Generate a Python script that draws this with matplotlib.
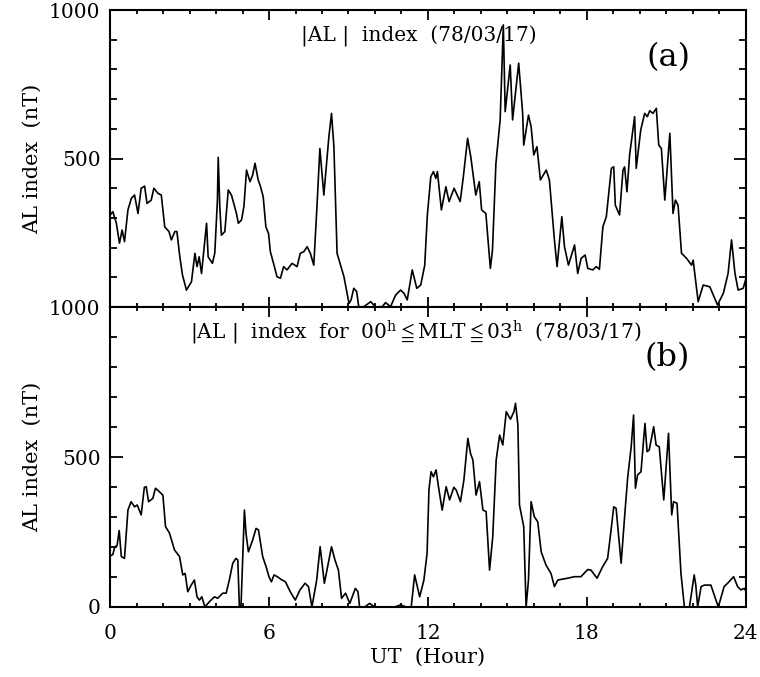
import matplotlib
matplotlib.use("Agg")
import matplotlib.pyplot as plt
from matplotlib.ticker import MultipleLocator

plt.rcParams['font.family'] = ['DejaVu Serif', 'DejaVu Sans']
plt.rcParams['mathtext.fontset'] = 'dejavuserif'

# |AL| index, whole day (UT hours, nT)
al_t = [0.0, 0.1, 0.23, 0.35, 0.45, 0.54, 0.67, 0.8, 0.92, 1.05, 1.17, 1.3, 1.39, 1.55, 1.65,
        1.8, 1.93, 2.06, 2.22, 2.31, 2.44, 2.52, 2.63, 2.73, 2.88, 3.07, 3.2, 3.28, 3.36, 3.45,
        3.64, 3.7, 3.86, 3.95, 4.05, 4.08, 4.14, 4.2, 4.33, 4.46, 4.58, 4.77, 4.84, 4.96, 5.05,
        5.15, 5.28, 5.38, 5.47, 5.59, 5.68, 5.78, 5.88, 5.98, 6.05, 6.17, 6.3, 6.43, 6.55, 6.68,
        6.87, 7.06, 7.18, 7.31, 7.44, 7.56, 7.69, 7.81, 7.92, 8.07, 8.26, 8.36, 8.45, 8.57, 8.7,
        8.83, 9.02, 9.1, 9.2, 9.31, 9.39, 9.58, 9.84, 10.03, 10.15, 10.28, 10.4, 10.59, 10.78,
        10.97, 11.1, 11.22, 11.41, 11.58, 11.73, 11.88, 11.98, 12.11, 12.21, 12.3, 12.36, 12.51,
        12.68, 12.8, 12.99, 13.22, 13.34, 13.5, 13.62, 13.81, 13.94, 14.03, 14.19, 14.36, 14.44,
        14.57, 14.73, 14.85, 14.92, 15.11, 15.2, 15.43, 15.58, 15.62, 15.8, 15.9, 16.0, 16.12,
        16.25, 16.47, 16.59, 16.78, 16.88, 17.06, 17.16, 17.31, 17.54, 17.66, 17.79, 17.94,
        18.04, 18.23, 18.36, 18.48, 18.61, 18.74, 18.93, 19.02, 19.08, 19.24, 19.37, 19.43,
        19.52, 19.62, 19.81, 19.87, 20.04, 20.19, 20.29, 20.38, 20.5, 20.63, 20.72, 20.82,
        20.95, 21.14, 21.26, 21.35, 21.45, 21.58, 21.77, 21.96, 22.02, 22.21, 22.4, 22.65,
        22.94, 23.16, 23.34, 23.47, 23.6, 23.72, 23.91, 24.0]
al_v = [310, 321, 283, 215, 259, 220, 327, 366, 377, 315, 400, 407, 349, 360, 400,
        383, 377, 270, 254, 226, 254, 254, 169, 108, 57, 85, 181, 136, 169, 113,
        282, 169, 147, 181, 360, 504, 338, 242, 254, 394, 377, 315, 282, 293, 338,
        461, 422, 444, 484, 428, 405, 371, 270, 248, 186, 147, 102, 97, 136, 125,
        147, 136, 181, 186, 203, 181, 141, 338, 534, 377, 573, 652, 540, 181, 141,
        102, 12, 24, 63, 52, 0, 1, 18, 0, 1, 1, 15, 1, 40,
        57, 46, 24, 125, 63, 74, 140, 310, 439, 456, 433, 456, 327,
        405, 355, 400, 355, 439, 568, 506, 377, 422, 327, 315, 130, 192,
        484, 630, 950, 658, 815, 630, 821, 652, 545, 646, 607, 512, 540,
        428, 461, 428, 226, 136, 304, 203, 141, 209, 113, 164, 175,
        130, 125, 136, 127, 270, 304, 467, 472, 343, 310, 461, 472,
        388, 512, 641, 467, 596, 652, 641, 661, 652, 669, 545, 534,
        360, 585, 315, 360, 343, 181, 164, 141, 158, 18, 74, 68,
        7, 46, 113, 226, 113, 57, 63, 91]

# |AL| index for 00h <= MLT <= 03h
mlt_t = [0.0, 0.1, 0.17, 0.26, 0.34, 0.42, 0.54, 0.67, 0.79, 0.92, 1.02, 1.17, 1.29, 1.36, 1.45,
         1.61, 1.71, 1.86, 1.99, 2.09, 2.24, 2.43, 2.62, 2.74, 2.83, 2.93, 3.06, 3.18, 3.28,
         3.37, 3.46, 3.58, 3.75, 3.94, 4.06, 4.25, 4.38, 4.5, 4.63, 4.75, 4.82, 4.88, 4.94,
         5.07, 5.13, 5.22, 5.38, 5.51, 5.6, 5.76, 5.89, 6.0, 6.09, 6.19, 6.31, 6.49, 6.62,
         6.8, 6.99, 7.17, 7.36, 7.49, 7.62, 7.8, 7.93, 8.09, 8.24, 8.36, 8.49, 8.62, 8.74,
         8.89, 9.05, 9.26, 9.36, 9.42, 9.61, 9.8, 9.99, 10.37, 10.74, 10.97, 11.18, 11.37,
         11.5, 11.69, 11.85, 11.97, 12.04, 12.12, 12.21, 12.31, 12.4, 12.54, 12.69, 12.82,
         12.98, 13.07, 13.23, 13.36, 13.51, 13.61, 13.7, 13.82, 13.95, 14.08, 14.2, 14.33,
         14.45, 14.58, 14.71, 14.83, 14.96, 15.12, 15.25, 15.31, 15.4, 15.46, 15.62, 15.71,
         15.8, 15.9, 16.02, 16.15, 16.28, 16.46, 16.65, 16.78, 16.91, 17.28, 17.53, 17.78,
         18.04, 18.16, 18.39, 18.6, 18.79, 18.92, 19.02, 19.11, 19.3, 19.45, 19.55, 19.68,
         19.77, 19.84, 19.92, 20.05, 20.2, 20.28, 20.36, 20.53, 20.62, 20.74, 20.91, 21.09,
         21.21, 21.28, 21.41, 21.56, 21.69, 21.88, 22.06, 22.12, 22.19, 22.32, 22.44, 22.69,
         22.97, 23.19, 23.32, 23.55, 23.7, 23.82, 23.95, 24.0]
mlt_v = [170, 175, 200, 205, 255, 168, 162, 323, 351, 334, 340, 307, 399, 401, 351,
         362, 396, 384, 373, 268, 246, 190, 168, 107, 112, 51, 73, 90, 34,
         23, 34, 0, 18, 34, 29, 46, 46, 90, 146, 162, 157, 0, 0,
         323, 246, 184, 223, 262, 257, 168, 134, 100, 84, 107, 101, 90, 84,
         51, 23, 57, 79, 68, 0, 90, 201, 79, 146, 201, 157, 123, 29,
         46, 12, 62, 51, 0, 0, 12, 0, 0, 0, 7, 0, 0,
         107, 34, 90, 179, 390, 451, 434, 457, 401, 323, 401, 357,
         399, 390, 351, 423, 562, 512, 490, 373, 418, 323, 318, 123,
         234, 490, 573, 540, 651, 626, 651, 679, 607, 340, 268, 0,
         90, 351, 301, 284, 184, 140, 112, 68, 90, 96, 101, 101,
         125, 123, 96, 134, 162, 257, 334, 329, 146, 323, 434, 534,
         640, 396, 440, 451, 612, 518, 523, 601, 540, 534, 357, 579,
         307, 351, 346, 112, 0, 0, 107, 73, 0, 68, 73, 73,
         0, 68, 79, 101, 68, 57, 62, 55]

fig = plt.figure(figsize=(7.6, 6.77), dpi=100)
ax1 = fig.add_axes([0.145, 0.5465, 0.836, 0.4387])
ax2 = fig.add_axes([0.145, 0.1034, 0.836, 0.4431])

for ax in (ax1, ax2):
    ax.set_xlim(0, 24)
    ax.set_ylim(0, 1000)
    ax.xaxis.set_major_locator(MultipleLocator(6))
    ax.xaxis.set_minor_locator(MultipleLocator(1))
    ax.yaxis.set_minor_locator(MultipleLocator(100))
    ax.tick_params(which='both', direction='in', top=True, right=True, width=1.3,
                   labelsize=14.5)
    ax.tick_params(axis='y', which='major', length=9, pad=7)
    ax.tick_params(axis='y', which='minor', length=5)
    ax.tick_params(axis='x', which='major', length=7, pad=12)
    ax.tick_params(axis='x', which='minor', length=3)
    for s in ax.spines.values():
        s.set_linewidth(1.5)
    ax.set_ylabel('AL index  (nT)', fontsize=15, labelpad=5)

ax1.plot(al_t, al_v, color='black', lw=1.2)
ax2.plot(mlt_t, mlt_v, color='black', lw=1.2)

ax1.set_yticks([0, 500, 1000])
ax1.set_yticklabels(['', '500', '1000'])
ax1.tick_params(axis='x', labelbottom=False)
ax2.set_yticks([0, 500, 1000])
ax2.set_xlabel('UT  (Hour)', fontsize=15, labelpad=4)

ax1.text(0.486, 0.91, '|AL |  index  (78/03/17)', transform=ax1.transAxes,
         ha='center', va='center', fontsize=14.5)
ax1.text(0.878, 0.84, '(a)', transform=ax1.transAxes, ha='center', va='center',
         fontsize=23)
ax2.text(0.48, 0.913,
         r'|AL |  index  for  00$^{\rm h}\leqq$MLT$\leqq$03$^{\rm h}$  (78/03/17)',
         transform=ax2.transAxes, ha='center', va='center', fontsize=14.5)
ax2.text(0.876, 0.83, '(b)', transform=ax2.transAxes, ha='center', va='center',
         fontsize=23)

fig.savefig('out.png', dpi=100)
